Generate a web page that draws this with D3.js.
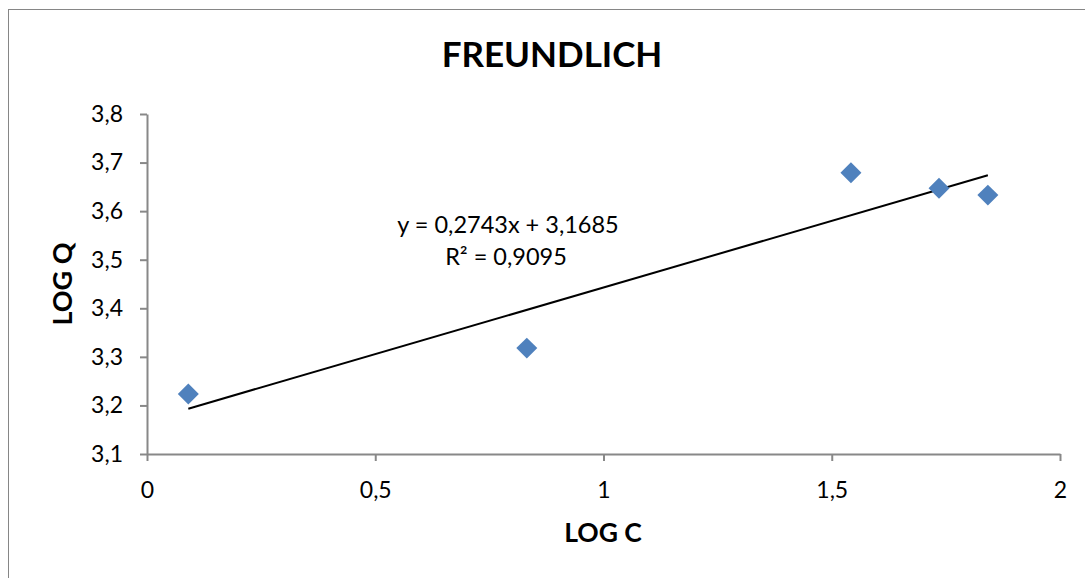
<!DOCTYPE html>
<html><head><meta charset="utf-8">
<script src="https://cdn.jsdelivr.net/npm/d3@7"></script>
<style>body{margin:0;background:#fff}svg{display:block}text{font-family:Lato,"Open Sans",sans-serif}</style>
</head><body><svg id="c" width="1085" height="578"></svg>
<script>
const logC = [0.0905, 0.832, 1.542, 1.735, 1.842];
const logQ = [3.2235, 3.318, 3.679, 3.647, 3.633];
const xTicks = [0, 0.5, 1, 1.5, 2];
const yTicks = [3.1, 3.2, 3.3, 3.4, 3.5, 3.6, 3.7, 3.8];
const slope = 0.2743, intercept = 3.1685, r2 = 0.9095;
const title = "FREUNDLICH", xTitle = "LOG C", yTitle = "LOG Q";

const svg = d3.select("#c");
const fmt = v => String(v).replace(".", ",");
svg.append("rect").attr("x",8.5).attr("y",9.5).attr("width",1090).attr("height",580)
  .attr("fill","#fff").attr("stroke","#868686");
const x = d3.scaleLinear().domain([0,2]).range([147,1060]);
const y = d3.scaleLinear().domain([3.1,3.8]).range([454,114]);
const axCol = "#888";
const gx = svg.append("g").attr("transform","translate(0,454)")
  .call(d3.axisBottom(x).tickValues(xTicks).tickFormat(fmt).tickSize(7).tickSizeOuter(0));
const gy = svg.append("g").attr("transform","translate(147,0)")
  .call(d3.axisLeft(y).tickValues(yTicks).tickFormat(fmt).tickSize(7).tickSizeOuter(0));
[gx,gy].forEach(g=>{
  g.selectAll("path,line").attr("stroke",axCol).attr("stroke-width",2);
  g.selectAll("text").attr("font-family","Lato").attr("font-size",23).attr("fill","#000");
});
gx.selectAll("text").attr("y",44).attr("dy",0);
gy.selectAll("text").attr("x",-24);

svg.append("text").attr("x",552).attr("y",67).attr("text-anchor","middle")
  .attr("font-size",35).attr("font-weight","bold").text(title);
svg.append("text").attr("x",603).attr("y",542).attr("text-anchor","middle")
  .attr("font-size",26.5).attr("font-weight","bold").text(xTitle);
svg.append("text").attr("transform","translate(72,284) rotate(-90)").attr("text-anchor","middle")
  .attr("font-size",27).attr("font-weight","bold").text(yTitle);

const x0 = d3.min(logC), x1 = d3.max(logC);
svg.append("line").attr("x1",x(x0)).attr("y1",y(slope*x0+intercept))
  .attr("x2",x(x1)).attr("y2",y(slope*x1+intercept)).attr("stroke","#000").attr("stroke-width",2);

svg.selectAll("path.pt").data(logC.map((c,i)=>[c,logQ[i]])).enter().append("path")
  .attr("class","pt").attr("d",d3.symbol(d3.symbolSquare,220)())
  .attr("transform",d=>`translate(${x(d[0])},${y(d[1])}) rotate(45)`).attr("fill","#4F81BD");

svg.append("text").attr("x",508).attr("y",233).attr("text-anchor","middle").attr("font-size",23.5)
  .text(`y = ${fmt(slope)}x + ${fmt(intercept)}`);
svg.append("text").attr("x",506).attr("y",265).attr("text-anchor","middle").attr("font-size",23.5)
  .text(`R² = ${fmt(r2)}`);
</script></body></html>
